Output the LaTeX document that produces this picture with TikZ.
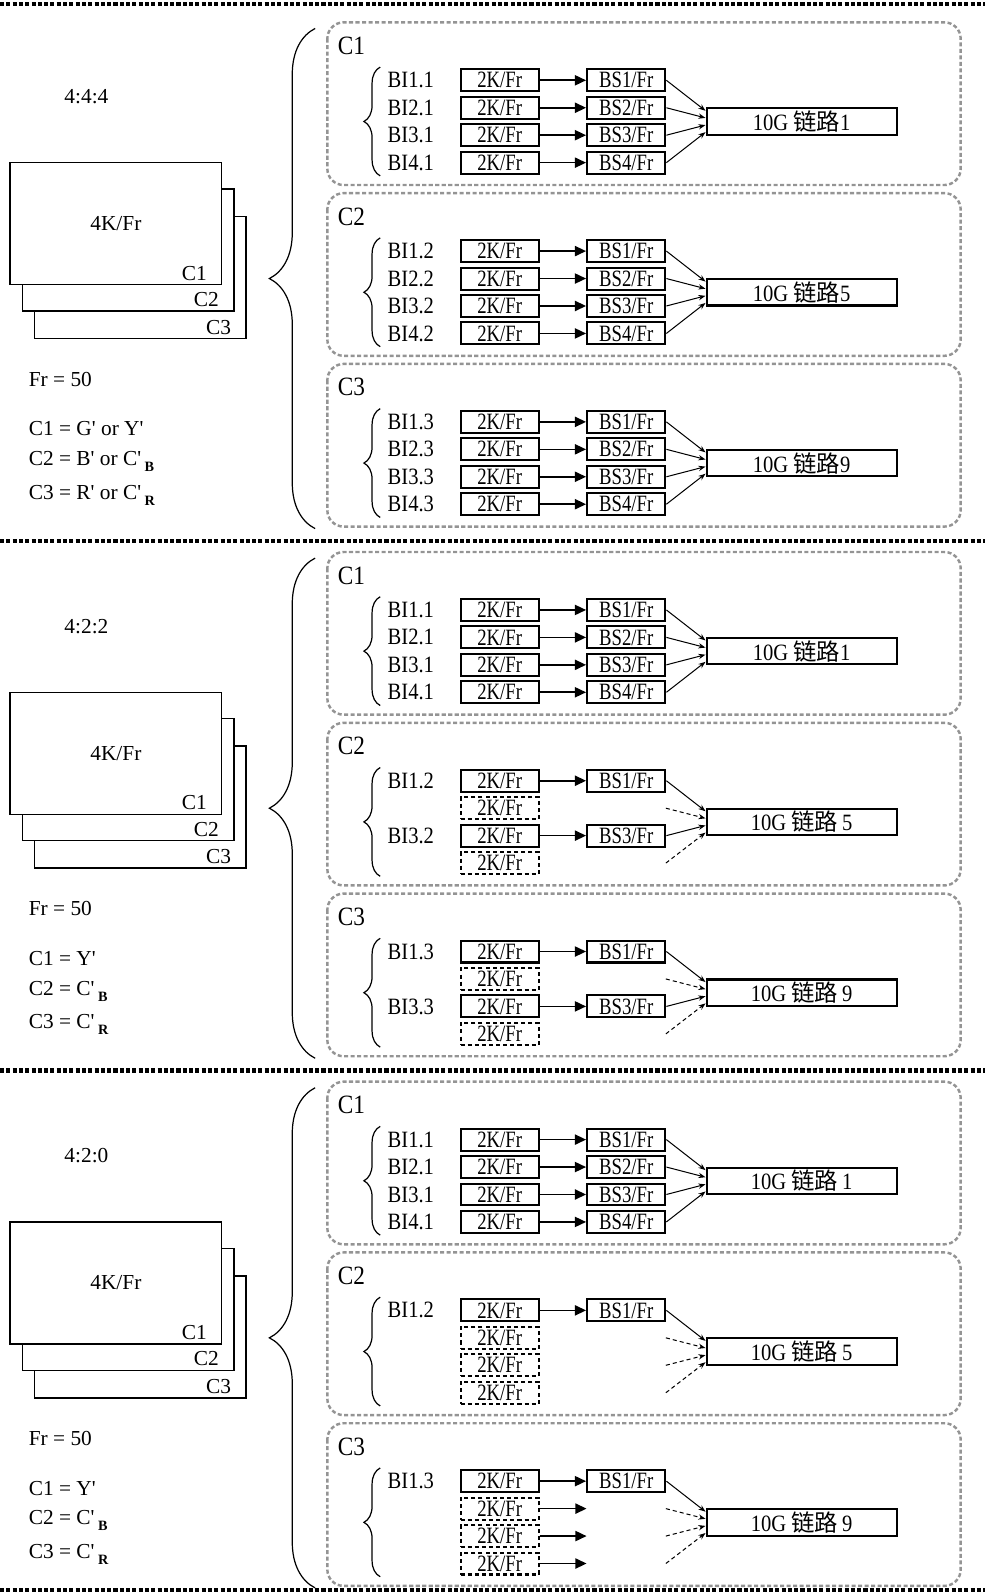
\documentclass[tikz,border=0pt]{standalone}
\usepackage{fontspec}
\setmainfont{Liberation Serif}
\newfontfamily\narrowfont{Liberation Serif}[FakeStretch=0.8]
\newfontfamily\slimfont{Liberation Serif}[FakeStretch=0.88]
\newfontfamily\cjk{Noto Sans CJK SC}
\usetikzlibrary{arrows.meta,decorations.pathreplacing}

\newcommand\chsub[1]{\,\raisebox{-0.6ex}{\scriptsize\bfseries #1}}
\newcommand\pr{\textquotesingle}

% one dashed channel frame: #1 top, #2 channel, #3 link no., #4 row kinds, #5 name
\newcommand\chanbox[5]{%
  \draw[chan frame] (322,#1) rectangle (945,#1+160);
  \node[chan label] (#5-c) at (332,#1+23) {C#2};
  \draw[small brace] (374,#1+151) -- (374,#1+44);
  \node[link box] (#5-l) at (788.5,#1+97.5) {10G {\cjk 链路}#3};
  \foreach \kind [count=\row] in {#4}{
    \pgfmathsetmacro\ry{#1+57+27*(\row-1)}
    \ifnum\kind=1
      \node[bi label] (#5-b\row) at (379,\ry) {BI\row.#2};
      \node[fr box] (#5-k\row) at (491.5,\ry) {2K/Fr};
      \node[fr box] (#5-s\row) at (616,\ry) {BS\row/Fr};
      \draw[row arrow] (#5-k\row) -- (#5-s\row);
      \draw[feed] (#5-s\row.east) -- ([yshift={(2.5-\row)*3.5pt}]#5-l.west);
    \else
      \node[fr box, dash pattern=on 2pt off 1.5pt] (#5-k\row) at (491.5,\ry) {2K/Fr};
      \coordinate (#5-s\row) at (655,\ry);
      \ifnum\kind=3
        \coordinate (#5-e\row) at (577,\ry);
        \draw[row arrow] (#5-k\row) -- (#5-e\row);
      \fi
      \draw[feed, dash pattern=on 2pt off 1.5pt] (#5-s\row) -- ([yshift={(2.5-\row)*3.5pt}]#5-l.west);
    \fi
  }
}

% left part of one block: #1 offset, #2 ratio, #3-#5 components, #6 name
\newcommand\framestack[6]{%
  \node[txt] (#6-r) at (85,#1+95) {#2};
  \node[frame sheet] (#6-f3) at (138,#1+273) {};
  \node[frame sheet] (#6-f2) at (126,#1+246) {};
  \node[frame sheet] (#6-f1) at (114,#1+220) {};
  \node[txt] (#6-t) at (#6-f1) {4K/Fr};
  \node[corner label] (#6-l1) at ([xshift=-6.5pt,yshift=2.5pt]#6-f1.south east) {C1};
  \node[corner label] (#6-l2) at ([xshift=-6.5pt,yshift=2.5pt]#6-f2.south east) {C2};
  \node[corner label] (#6-l3) at ([xshift=-6.5pt,yshift=2.5pt]#6-f3.south east) {C3};
  \node[txt, anchor=west] (#6-fr) at (26,#1+373) {Fr = 50};
  \node[txt, anchor=west] (#6-d1) at (26,#1+422) {#3};
  \node[txt, anchor=west] (#6-d2) at (26,#1+454) {#4};
  \node[txt, anchor=west] (#6-d3) at (26,#1+487) {#5};
  \draw[big brace] (310,#1+520) -- (310,#1+28);
}

\begin{document}
\begin{tikzpicture}[x=0.5pt, y=-0.5pt,
  txt/.style={inner sep=1pt, font=\fontsize{10.5}{12}\selectfont},
  sep line/.style={line width=2pt, dash pattern=on 2pt off 1.1pt},
  chan frame/.style={draw=black!42, line width=1.2pt, dash pattern=on 2pt off 1.2pt, rounded corners=8pt},
  chan label/.style={anchor=west, inner sep=0pt, font=\slimfont\fontsize{13}{15}\selectfont},
  bi label/.style={anchor=west, inner sep=1pt, font=\slimfont\fontsize{11.5}{12}\selectfont},
  fr box/.style={draw, line width=1pt, minimum width=38.5pt, minimum height=10.8pt, inner sep=0pt, font=\narrowfont\fontsize{11.5}{10}\selectfont},
  link box/.style={draw, line width=1pt, minimum width=93.5pt, minimum height=13pt, inner sep=0pt, font=\slimfont\fontsize{11.5}{12}\selectfont},
  row arrow/.style={line width=0.8pt, -{Triangle[length=5.5pt,width=5pt]}},
  feed/.style={line width=0.5pt, -{Stealth[length=3.5pt,width=2.6pt]}},
  big brace/.style={decorate, decoration={brace, amplitude=22.5pt}, line width=0.6pt},
  small brace/.style={decorate, decoration={brace, amplitude=8pt}, line width=0.6pt},
  frame sheet/.style={draw, line width=0.7pt, fill=white, minimum width=104pt, minimum height=60pt, inner sep=0pt},
  corner label/.style={txt, anchor=base east}]
  \useasboundingbox (0,0) rectangle (969,1568);

  \foreach \y in {4,532,1053,1564}
    \draw[sep line] (0,\y) -- (969,\y);

  % 4:4:4
  \framestack{0}{4:4:4}{C1 = G\pr{} or Y\pr}{C2 = B\pr{} or C\pr\chsub{B}}{C3 = R\pr{} or C\pr\chsub{R}}{a}
  \chanbox{22}{1}{1}{1,1,1,1}{a1}
  \chanbox{190}{2}{5}{1,1,1,1}{a2}
  \chanbox{358}{3}{9}{1,1,1,1}{a3}

  % 4:2:2
  \framestack{521}{4:2:2}{C1 = Y\pr}{C2 = C\pr\chsub{B}}{C3 = C\pr\chsub{R}}{b}
  \chanbox{543}{1}{1}{1,1,1,1}{b1}
  \chanbox{711}{2}{\,5}{1,2,1,2}{b2}
  \chanbox{879}{3}{\,9}{1,2,1,2}{b3}

  % 4:2:0
  \framestack{1042}{4:2:0}{C1 = Y\pr}{C2 = C\pr\chsub{B}}{C3 = C\pr\chsub{R}}{c}
  \chanbox{1064}{1}{\,1}{1,1,1,1}{c1}
  \chanbox{1232}{2}{\,5}{1,2,2,2}{c2}
  \chanbox{1400}{3}{\,9}{1,3,3,3}{c3}
\end{tikzpicture}
\end{document}
